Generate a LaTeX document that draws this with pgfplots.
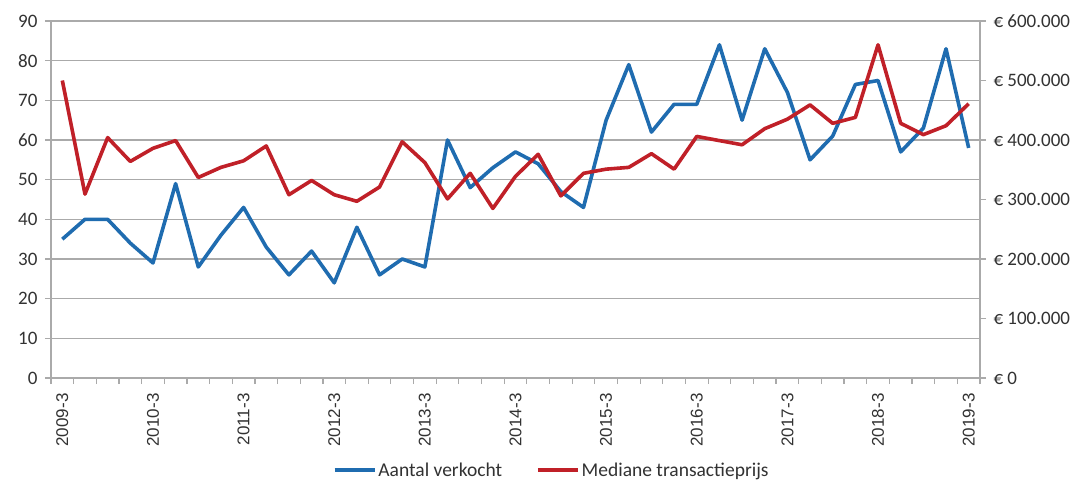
\documentclass[border=0pt]{standalone}
\usepackage{fontspec}
\setmainfont{Carlito}
\newfontfamily\arialf{Liberation Sans}
\usepackage{pgfplots}
\pgfplotsset{compat=1.18}
\usepackage{pgfplotstable}
\definecolor{cblue}{RGB}{31,108,176}
\definecolor{cred}{RGB}{192,32,40}
\definecolor{cgrid}{RGB}{170,170,170}
\definecolor{ctext}{RGB}{50,50,50}

\pgfplotstableread{
i n p
0 35 500000
1 40 309000
2 40 404000
3 34 364000
4 29 386000
5 49 399000
6 28 337000
7 36 354000
8 43 365000
9 33 390000
10 26 308000
11 32 332000
12 24 308000
13 38 297000
14 26 321000
15 30 397000
16 28 362000
17 60 301000
18 48 344000
19 53 285000
20 57 339000
21 54 376000
22 47 306000
23 43 344000
24 65 351000
25 79 354000
26 62 377000
27 69 351000
28 69 406000
29 84 399000
30 65 392000
31 83 419000
32 72 435000
33 55 459000
34 61 428000
35 74 438000
36 75 560000
37 57 428000
38 63 409000
39 83 424000
40 58 461000
}\data

\begin{document}
\begin{tikzpicture}
\pgfplotsset{
  base/.style={
    scale only axis, width=929pt, height=357pt,
    xmin=-0.5, xmax=40.5,
    at={(0pt,0pt)}, anchor=south west,
    tick label style={font=\fontsize{19}{22}\selectfont, text=ctext},
    /pgf/number format/assume math mode=true,
    axis line style={cgrid, line width=1.2pt},
    every tick/.style={cgrid, line width=1.2pt},
    tick align=outside,
    major tick length=6pt,
    clip=false,
  }
}
\begin{axis}[base,
  ymin=0, ymax=90, ytick={0,10,...,90},
  axis y line*=left, axis x line*=bottom,
  ymajorgrids, grid style={cgrid, line width=1.2pt},
  xtick={-0.5,0.5,...,40.5}, xticklabels={},
  extra x ticks={0,4,...,40},
  extra x tick labels={2009-3,2010-3,2011-3,2012-3,2013-3,2014-3,2015-3,2016-3,2017-3,2018-3,2019-3},
  extra x tick style={major tick length=0pt},
  xticklabel shift=12pt,
  x tick label style={rotate=90, anchor=east, font=\arialf\fontsize{17}{20}\selectfont},
  yticklabel style={xshift=-4pt},
]
\addplot[cblue, line width=3.6pt, line join=round] table[x=i, y=n] {\data};
\end{axis}
\begin{axis}[base,
  ymin=0, ymax=600000, ytick={0,100000,...,600000},
  scaled y ticks=false,
  yticklabels={€ 0,€ 100.000,€ 200.000,€ 300.000,€ 400.000,€ 500.000,€ 600.000},
  axis y line*=right, axis x line=none,
  yticklabel style={xshift=4pt},
  legend style={draw=none, at={(0.539,-0.258)}, anchor=center, legend columns=2,
    font=\fontsize{19.5}{23}\selectfont, text=ctext, inner sep=0pt,
    nodes={inner xsep=2pt},
    /tikz/every even column/.append style={column sep=32pt}},
  legend image code/.code={\draw[#1, line width=3.6pt] (0pt,0pt) -- (40pt,0pt);},
]
\addlegendimage{cblue}
\addlegendentry{Aantal verkocht}
\addplot[cred, line width=3.6pt, line join=round] table[x=i, y=p] {\data};
\addlegendentry{Mediane transactieprijs}
\end{axis}
\pgfresetboundingbox
\useasboundingbox (-51pt,-106pt) rectangle (1030pt,378pt);
\end{tikzpicture}
\end{document}
